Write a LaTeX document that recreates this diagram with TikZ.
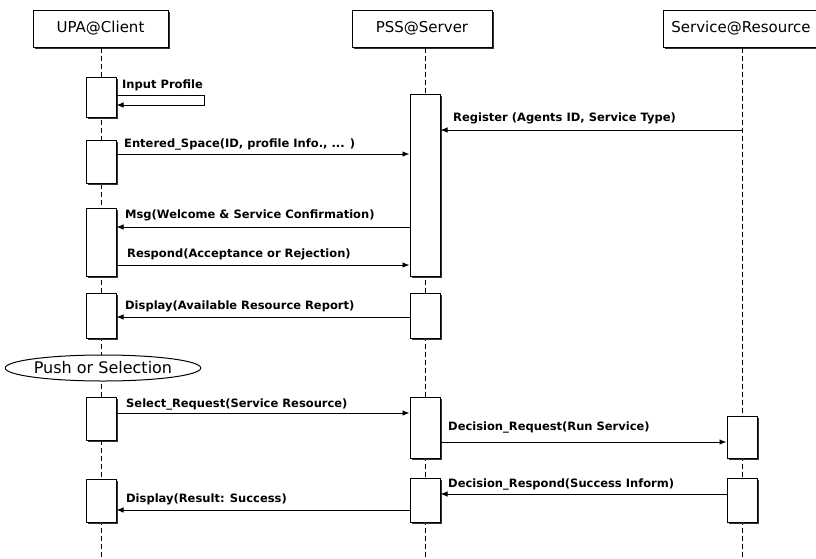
\documentclass[tikz,border=0pt]{standalone}
\usepackage{fontspec}
\setmainfont{DejaVu Sans}
\usetikzlibrary{arrows.meta,shapes.geometric,shadows}
\begin{document}
\begin{tikzpicture}[x=1pt,y=-1pt,
  shade box/.style={drop shadow={shadow xshift=1.6pt,shadow yshift=-1.8pt,fill=black!80,opacity=1}},
  actor/.style={draw,fill=white,line width=1pt,minimum height=37pt,inner sep=0pt,
    font=\fontsize{15}{17}\selectfont,shade box},
  act/.style={draw,fill=white,line width=1pt,minimum width=30pt,inner sep=0pt,shade box},
  life/.style={line width=1pt,dash pattern=on 5pt off 3pt},
  msg/.style={line width=0.9pt,-{Latex[length=7pt,width=5.5pt]}},
  lbl/.style={anchor=base west,inner sep=0pt,font=\bfseries\fontsize{11.5}{13}\selectfont},
]
\useasboundingbox[fill=white] (0,0) rectangle (816,558);

% participants
\node[actor,minimum width=135pt] (hu) at (100.5,28.5) {UPA@Client};
\node[actor,minimum width=140pt] (hp) at (422,28.5) {PSS@Server};
\node[actor,minimum width=156pt] (hr) at (741,28.5) {Service@Resource};

% lifelines
\coordinate (eu) at (101,558);
\coordinate (ep) at (425,558);
\coordinate (er) at (742,558);
\draw[life] (eu |- hu.south) -- (eu);
\draw[life] (ep |- hp.south) -- (ep);
\draw[life] (er |- hr.south) -- (er);

% activation bars
\node[act,minimum height=40pt] (u1) at (101,97) {};
\node[act,minimum height=43pt] (u2) at (101,161.5) {};
\node[act,minimum height=68pt] (u3) at (101,242) {};
\node[act,minimum height=45pt] (u4) at (101,315.5) {};
\node[act,minimum height=43pt] (u5) at (101,418.5) {};
\node[act,minimum height=43pt] (u6) at (101,500.5) {};
\node[act,minimum height=182pt] (p1) at (425,185) {};
\node[act,minimum height=45pt] (p2) at (425,315.5) {};
\node[act,minimum height=61pt] (p3) at (425,427.5) {};
\node[act,minimum height=44pt] (p4) at (425,500) {};
\node[act,minimum height=42pt] (r1) at (742,437) {};
\node[act,minimum height=44pt] (r2) at (742,500) {};

% state
\node[draw,ellipse,fill=white,line width=1pt,minimum width=190pt,minimum height=26pt,
  inner sep=0pt,font=\fontsize{16}{18}\selectfont] (ps) at (103,368) {Push or Selection};

% messages
\draw[msg] (u1.east |- 0,95) -- ++(88,0) -- ++(0,10) -- (u1.east |- 0,105);
\node[lbl] (l0) at (122,88) {Input Profile};

\draw[msg] (er |- 0,130) -- (p1.east |- 0,130);
\node[lbl] (l1) at (453,121) {Register (Agents ID, Service Type)};

\draw[msg] (u2.east |- 0,154) -- (p1.west |- 0,154);
\node[lbl] (l2) at (124,147.5) {Entered\_Space(ID, profile Info., ... )};

\draw[msg] (p1.west |- 0,227) -- (u3.east |- 0,227);
\node[lbl] (l3) at (125,218) {Msg(Welcome \& Service Confirmation)};

\draw[msg] (u3.east |- 0,265) -- (p1.west |- 0,265);
\node[lbl] (l4) at (127,257) {Respond(Acceptance or Rejection)};

\draw[msg] (p2.west |- 0,317) -- (u4.east |- 0,317);
\node[lbl] (l5) at (125,309) {Display(Available Resource Report)};

\draw[msg] (u5.east |- 0,413) -- (p3.west |- 0,413);
\node[lbl] (l6) at (126,407) {Select\_Request(Service Resource)};

\draw[msg] (p3.east |- 0,442) -- (r1.west |- 0,442);
\node[lbl] (l7) at (448,430) {Decision\_Request(Run Service)};

\draw[msg] (r2.west |- 0,494) -- (p4.east |- 0,494);
\node[lbl] (l8) at (448,487) {Decision\_Respond(Success Inform)};

\draw[msg] (p4.west |- 0,510) -- (u6.east |- 0,510);
\node[lbl] (l9) at (126,502) {Display(Result: Success)};
\end{tikzpicture}
\end{document}
